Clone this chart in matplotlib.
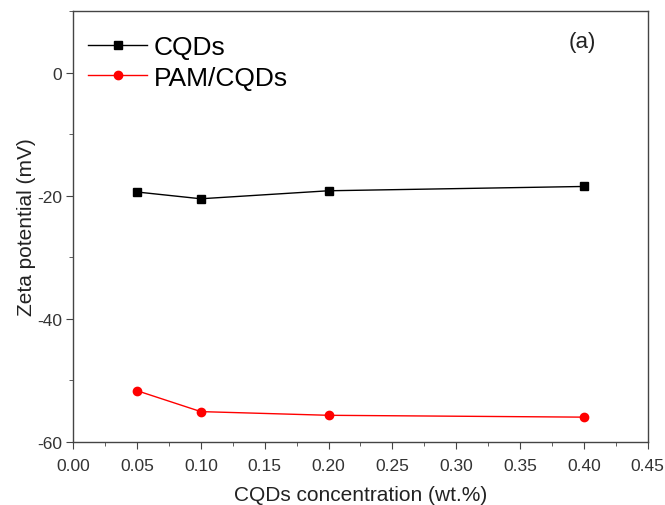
import matplotlib.pyplot as plt
from matplotlib.ticker import MultipleLocator, FormatStrFormatter

# Data
conc = [0.05, 0.10, 0.20, 0.40]
cqds = [-19.4, -20.5, -19.2, -18.5]
pam_cqds = [-51.7, -55.1, -55.7, -56.0]

plt.rcParams['font.family'] = ['Liberation Sans', 'DejaVu Sans']
plt.rcParams['axes.unicode_minus'] = False

fig = plt.figure(figsize=(6.65, 5.06), dpi=100)
ax = fig.add_axes([0.110, 0.125, 0.864, 0.851])

ax.plot(conc, cqds, color='black', linewidth=1, marker='s', markersize=5.5, label='CQDs')
ax.plot(conc, pam_cqds, color='red', linewidth=1, marker='o', markersize=6, label='PAM/CQDs')

ax.set_xlim(0, 0.45)
ax.set_ylim(-60, 10)
ax.xaxis.set_major_locator(MultipleLocator(0.05))
ax.xaxis.set_minor_locator(MultipleLocator(0.025))
ax.xaxis.set_major_formatter(FormatStrFormatter('%.2f'))
ax.yaxis.set_major_locator(MultipleLocator(20))
ax.yaxis.set_minor_locator(MultipleLocator(10))

spine_color = '#444444'
for s in ax.spines.values():
    s.set_color(spine_color)
    s.set_linewidth(1)
ax.tick_params(which='both', direction='out', color=spine_color, labelcolor='#333333', labelsize=12.5)
ax.tick_params(which='major', length=5)
ax.tick_params(which='minor', length=3)
ax.tick_params(axis='x', pad=7)
ax.tick_params(axis='y', pad=3)

ax.set_xlabel('CQDs concentration (wt.%)', fontsize=15, color='#222222', labelpad=8)
ax.set_ylabel('Zeta potential (mV)', fontsize=15, color='#222222', labelpad=1)

ax.legend(loc='upper left', frameon=False, fontsize=19, handlelength=2.23, handletextpad=0.25,
          labelspacing=0.26, borderpad=0, borderaxespad=0, bbox_to_anchor=(0.026, 0.945))
ax.text(0.887, 0.930, '(a)', transform=ax.transAxes, fontsize=16, color='#222222', ha='center', va='center')

fig.savefig('out.png', dpi=100)
